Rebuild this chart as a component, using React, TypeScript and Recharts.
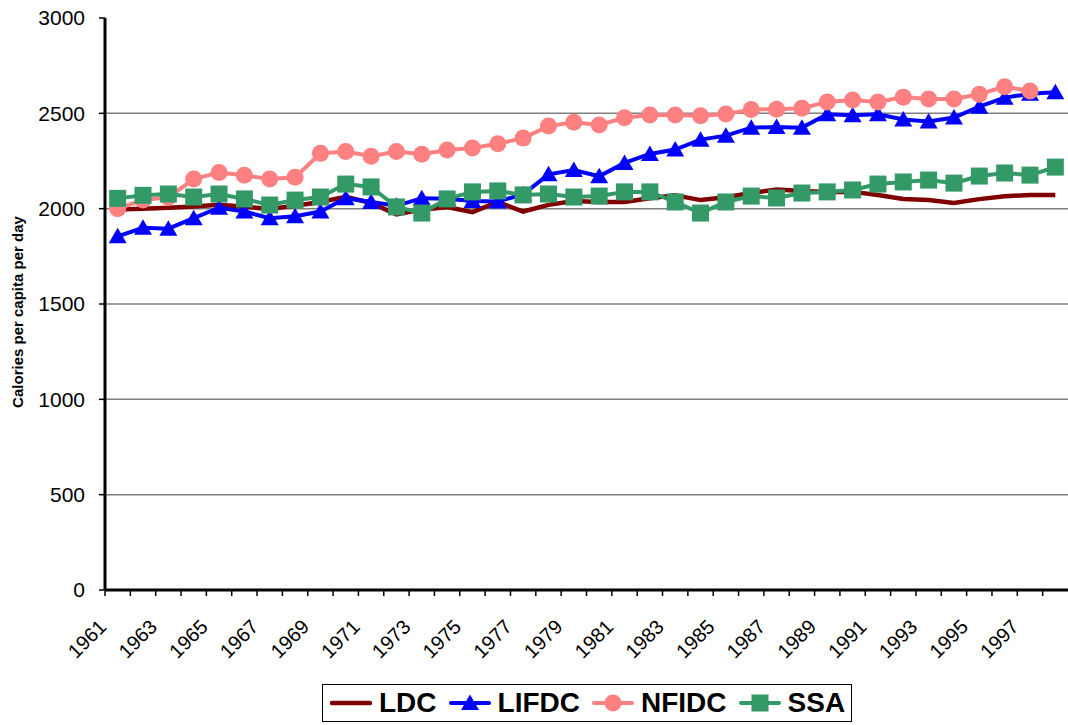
import { LineChart, Line, XAxis, YAxis, CartesianGrid } from 'recharts';

// Calories per capita per day, 1961-1998
const YEARS = [
  '1961', '1962', '1963', '1964', '1965', '1966', '1967', '1968', '1969', '1970',
  '1971', '1972', '1973', '1974', '1975', '1976', '1977', '1978', '1979', '1980',
  '1981', '1982', '1983', '1984', '1985', '1986', '1987', '1988', '1989', '1990',
  '1991', '1992', '1993', '1994', '1995', '1996', '1997', '1998',
];

const LDC = [
  1995, 2000, 2005, 2012, 2020, 2010, 1998, 2015, 2035, 2062,
  2030, 1970, 1995, 2008, 1982, 2035, 1985, 2020, 2040, 2035,
  2035, 2055, 2070, 2045, 2060, 2082, 2100, 2093, 2088, 2088,
  2072, 2051, 2045, 2030, 2050, 2065, 2072, 2072,
];

const LIFDC = [
  1855, 1900, 1895, 1950, 2005, 1985, 1950, 1960, 1985, 2055,
  2035, 2015, 2055, 2052, 2040, 2038, 2075, 2180, 2203, 2170,
  2240, 2287, 2310, 2362, 2383, 2425, 2428, 2425, 2495, 2490,
  2495, 2468, 2457, 2478, 2535, 2582, 2603, 2610,
];

// no 1998 figure for NFIDC
const NFIDC = [
  2000, 2045, 2060, 2155, 2190, 2175, 2155, 2165, 2290, 2300,
  2275, 2300, 2285, 2308, 2318, 2340, 2370, 2433, 2453, 2439,
  2477, 2491, 2491, 2487, 2496, 2520, 2522, 2527, 2560, 2570,
  2560, 2585, 2575, 2575, 2600, 2640, 2617, null,
];

const SSA = [
  2054, 2070, 2077, 2061, 2077, 2051, 2019, 2045, 2061, 2129,
  2114, 2009, 1977, 2051, 2088, 2093, 2072, 2077, 2061, 2066,
  2088, 2088, 2035, 1977, 2035, 2066, 2056, 2082, 2088, 2098,
  2129, 2140, 2150, 2134, 2171, 2187, 2176, 2218,
];

const Y_TICKS = [0, 500, 1000, 1500, 2000, 2500, 3000];
const GRID_VALUES = [500, 1000, 1500, 2000, 2500];
const Y_TITLE = 'Calories per capita per day';

const FONT = 'Arial, "Liberation Sans", sans-serif';
const WIDTH = 1068;
const HEIGHT = 725;
const PLOT_LEFT = 105;
const BAND = (WIDTH - PLOT_LEFT) / YEARS.length;

type Marker = 'none' | 'triangle' | 'circle' | 'square';

const SERIES: { key: string; name: string; color: string; marker: Marker; width: number }[] = [
  { key: 'ldc', name: 'LDC', color: '#800000', marker: 'none', width: 4.5 },
  { key: 'lifdc', name: 'LIFDC', color: '#0000FF', marker: 'triangle', width: 4 },
  { key: 'nfidc', name: 'NFIDC', color: '#FF8080', marker: 'circle', width: 4 },
  { key: 'ssa', name: 'SSA', color: '#339966', marker: 'square', width: 4 },
];

const data = YEARS.map((year, i) => ({
  year,
  ldc: LDC[i],
  lifdc: LIFDC[i],
  nfidc: NFIDC[i],
  ssa: SSA[i],
}));

function markerShape(marker: Marker, cx: number, cy: number, color: string, key?: string) {
  if (marker === 'circle') return <circle key={key} cx={cx} cy={cy} r={8.5} fill={color} />;
  if (marker === 'square') return <rect key={key} x={cx - 8.5} y={cy - 8.5} width={17} height={17} fill={color} />;
  if (marker === 'triangle')
    return <polygon key={key} points={`${cx},${cy - 8.5} ${cx + 9},${cy + 7} ${cx - 9},${cy + 7}`} fill={color} />;
  return null;
}

const makeDot = (marker: Marker, color: string) => (props: any) => {
  const { cx, cy, index, value } = props;
  const key = `dot-${marker}-${index}`;
  if (cx == null || cy == null || value == null) return <g key={key} />;
  return markerShape(marker, cx, cy, color, key);
};

// every category gets a boundary tick, every other one a rotated year
const YearTick = ({ x, y, payload, index }: any) => {
  const ax = x - 10;
  const ay = y + 30;
  return (
    <g>
      <line x1={x - BAND / 2} y1={y - 7} x2={x - BAND / 2} y2={y - 2} stroke="#000" strokeWidth={1.5} />
      {index % 2 === 0 && (
        <text x={ax} y={ay} textAnchor="end" transform={`rotate(-45, ${ax}, ${ay})`} fontSize={20} fontFamily={FONT} fill="#000">
          {payload.value}
        </text>
      )}
    </g>
  );
};

function AxisTitle() {
  const cx = 17;
  const cy = 312;
  return (
    <svg width={34} height={HEIGHT} style={{ position: 'absolute', left: 0, top: 0, overflow: 'visible' }}>
      <text
        x={cx}
        y={cy}
        textAnchor="middle"
        dominantBaseline="central"
        transform={`rotate(-90, ${cx}, ${cy})`}
        fontSize={15}
        fontWeight="bold"
        fontFamily={FONT}
        fill="#000"
      >
        {Y_TITLE}
      </text>
    </svg>
  );
}

function LegendBox() {
  return (
    <div
      style={{
        position: 'absolute',
        left: 322,
        top: 684,
        width: 530,
        height: 38,
        boxSizing: 'border-box',
        border: '1px solid #000',
        background: '#fff',
        display: 'flex',
        alignItems: 'center',
        paddingLeft: 7,
        gap: 12,
        fontFamily: FONT,
        fontWeight: 'bold',
        fontSize: 28,
        color: '#000',
      }}
    >
      {SERIES.map((s) => (
        <div key={s.key} style={{ display: 'flex', alignItems: 'center', gap: 7 }}>
          <svg width={42} height={20}>
            <line x1={2} y1={10} x2={40} y2={10} stroke={s.color} strokeWidth={s.width} strokeLinecap="round" />
            {markerShape(s.marker, 21, 10, s.color)}
          </svg>
          <span>{s.name}</span>
        </div>
      ))}
    </div>
  );
}

export default function App() {
  return (
    <div style={{ position: 'absolute', left: 0, top: 0, width: WIDTH, height: HEIGHT, background: '#fff' }}>
      <LineChart width={WIDTH} height={HEIGHT} data={data} margin={{ top: 18, right: 0, bottom: 0, left: 0 }}>
        <CartesianGrid vertical={false} horizontalValues={GRID_VALUES} stroke="#808080" strokeWidth={1.5} />
        <XAxis
          dataKey="year"
          interval={0}
          height={135}
          padding={{ left: BAND / 2, right: BAND / 2 }}
          axisLine={{ stroke: '#000', strokeWidth: 3 }}
          tickLine={false}
          tick={<YearTick />}
        />
        <YAxis
          width={PLOT_LEFT}
          domain={[0, 3000]}
          ticks={Y_TICKS}
          interval={0}
          axisLine={{ stroke: '#000', strokeWidth: 3 }}
          tickLine={{ stroke: '#000', strokeWidth: 1.5 }}
          tickSize={6}
          tickMargin={14}
          tick={{ fontSize: 21, fontFamily: FONT, fill: '#000' }}
        />
        {SERIES.map((s) => (
          <Line
            key={s.key}
            type="linear"
            dataKey={s.key}
            name={s.name}
            stroke={s.color}
            strokeWidth={s.width}
            dot={s.marker === 'none' ? false : makeDot(s.marker, s.color)}
            activeDot={false}
            isAnimationActive={false}
          />
        ))}
      </LineChart>
      <AxisTitle />
      <LegendBox />
    </div>
  );
}
